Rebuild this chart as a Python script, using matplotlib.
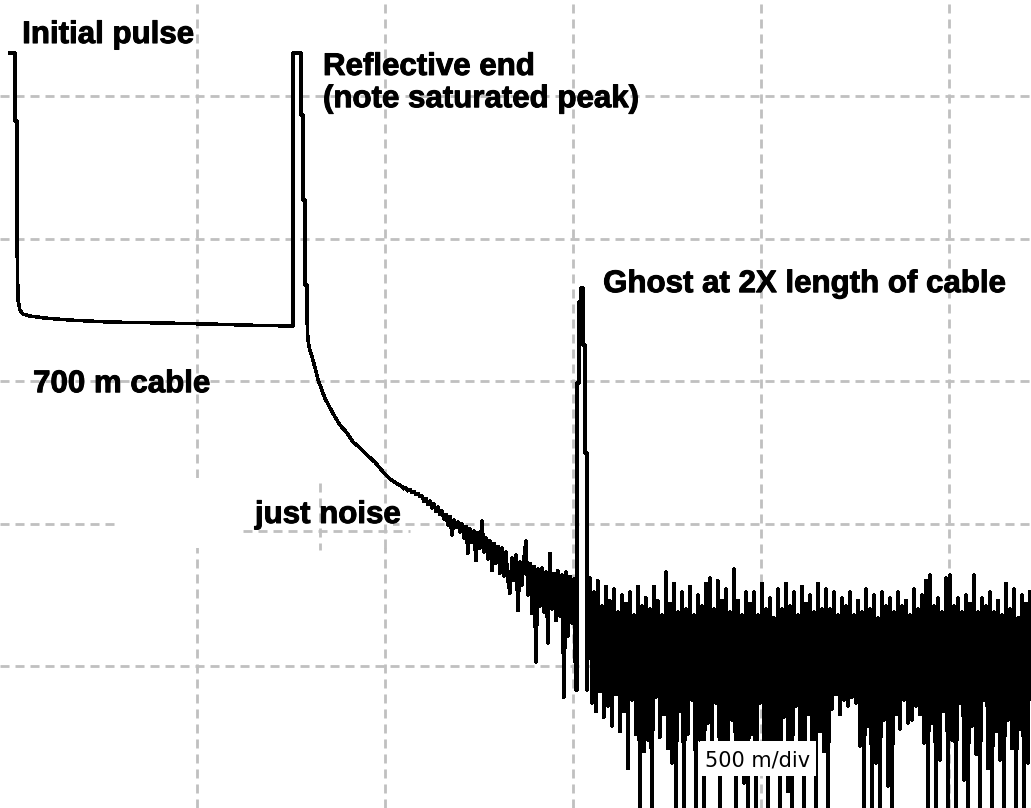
#!/usr/bin/env python3
"""Redraw an OTDR trace of a 700 m cable: launch pulse, end reflection and ghost.

Distance is in metres (500 m/div), level in dB (5 dB/div).
Output: out.png
"""

import matplotlib

matplotlib.use("Agg")

import matplotlib.patheffects as pe
import matplotlib.pyplot as plt
import numpy as np
from matplotlib.patches import Rectangle

# Launch pulse, cable backscatter, saturated end reflection and the smooth decay.
PULSE_M = [3, 16, 16, 21, 21, 24, 29, 37, 56, 96,
           162, 269, 402, 535, 641, 750, 755, 755, 777, 777,
           782, 782, 787, 787, 793, 793, 795, 800, 806, 814,
           822, 832, 840, 854, 867, 880, 899, 915, 934, 952,
           973, 995, 1013, 1029]
PULSE_DB = [21.51, 21.51, 19.12, 19.12, 14.95, 12.84, 12.49, 12.35, 12.28, 12.21,
            12.14, 12.07, 12.04, 12.00, 11.96, 11.93, 11.93, 21.51, 21.51, 19.33,
            19.33, 16.35, 16.35, 13.37, 13.37, 12.04, 11.44, 11.09, 10.84, 10.46,
            10.04, 9.68, 9.40, 9.05, 8.74, 8.46, 8.18, 7.86, 7.65, 7.40,
            7.16, 6.81, 6.56, 6.42]

SAMPLE_STEP_M = 5.32

# Decay sinking into the noise, sampled every SAMPLE_STEP_M from DECAY_START_M.
DECAY_START_M = 1045
DECAY_DB = [6.30, 6.22, 6.25, 6.15, 6.20, 6.08, 6.12, 6.02, 6.06, 5.95,
            5.97, 5.78, 5.88, 5.66, 5.80, 5.55, 5.70, 5.42, 5.58, 5.32,
            5.45, 5.15, 5.32, 4.95, 5.25, 4.60, 5.12, 4.85, 5.05, 4.70,
            5.00, 4.50, 4.90, 3.95, 4.82, 4.35, 4.75, 3.70, 4.68, 4.15,
            5.10, 4.00, 4.50, 3.75, 4.40, 3.35, 4.30, 3.60, 4.20, 3.25,
            4.15, 3.15, 4.00, 3.00, 2.55, 3.80, 3.00, 3.90, 1.95, 3.65,
            2.85, 3.80, 4.40, 2.50, 3.60, 1.85, 3.50, 0.15, 3.40, 2.10,
            3.45, 1.90, 3.30, 0.80, 3.95, 2.00, 3.25, 1.60, 3.35, 1.75,
            3.20, -1.10, 3.30, 1.05, 3.15, 1.50, 3.05]

# Ghost reflection at twice the cable length.
GHOST_M = [1507, 1511, 1511, 1516, 1516, 1521, 1521, 1527, 1527, 1532, 1532, 1537, 1537]
GHOST_DB = [-0.84, -0.84, 9.93, 9.93, 12.77, 12.77, 13.26, 13.26, 11.26, 11.26,
            7.47, 7.47, -0.84]

# Noise floor after the ghost, sampled every SAMPLE_STEP_M from FLOOR_START_M.
FLOOR_START_M = 1545
FLOOR_DB = [3.1, -1.3, 2.6, -1.6, 3.0, -0.9, 2.1, -1.8, 2.8, -1.4,
            2.3, -2.1, 2.7, -1.0, 1.9, -2.3, 2.5, -1.6, 2.2, -3.6,
            2.6, -1.2, 1.8, -2.4, 2.8, -5.6, 2.1, -3.0, 2.4, -2.6,
            2.0, -5.6, 2.8, -1.1, 2.3, -2.5, 1.8, -1.7, 3.3, -2.9,
            2.2, -3.4, 2.9, -5.6, 1.9, -1.6, 2.6, -5.6, 2.0, -2.4,
            2.8, -1.2, 1.8, -5.6, 2.5, -2.6, 2.1, -5.6, 2.9, -2.0,
            3.1, -2.8, 2.0, -1.3, 3.0, -5.6, 2.3, -3.3, 2.7, -2.9,
            1.9, -1.9, 3.4, -5.6, 2.3, -2.7, 1.8, -4.1, 2.6, -5.6,
            2.2, -2.4, 2.6, -5.6, 1.8, -1.3, 2.9, -3.0, 2.0, -5.6,
            2.4, -3.8, 1.7, -2.8, 2.7, -5.6, 2.0, -1.8, 2.9, -4.4,
            2.1, -5.6, 2.6, -1.4, 1.8, -3.2, 2.8, -5.6, 2.2, -1.7,
            2.5, -3.5, 1.9, -5.6, 2.9, -2.3, 2.0, -3.0, 2.7, -5.6,
            2.0, -1.5, 2.6, -1.0, 1.8, -1.7, 2.4, -1.2, 2.1, -1.4,
            2.6, -1.1, 1.8, -1.3, 2.3, -2.8, 1.9, -5.6, 2.7, -2.1,
            2.0, -5.6, 2.5, -3.4, 1.7, -5.6, 2.6, -1.9, 2.1, -4.2,
            2.4, -5.6, 1.9, -1.7, 2.6, -2.2, 2.1, -1.2, 2.3, -2.0,
            1.8, -1.9, 2.7, -1.4, 2.0, -1.7, 2.5, -2.7, 3.0, -5.6,
            3.2, -2.0, 2.1, -5.6, 2.4, -3.3, 1.9, -1.6, 3.1, -5.6,
            3.2, -2.6, 2.1, -5.6, 2.4, -1.3, 1.9, -4.0, 2.5, -5.6,
            2.2, -2.1, 3.2, -3.1, 1.9, -5.6, 2.4, -1.2, 2.1, -3.6,
            2.6, -5.6, 1.9, -2.3, 2.3, -3.3, 1.8, -5.6, 2.9, -1.9,
            2.0, -2.9, 2.7, -5.6, 1.7, -2.2, 2.5, -5.6, 2.2, -3.4,
            2.6]

DIST_TICKS_M = [500, 1000, 1500, 2000, 2500]
LEVEL_TICKS_DB = [0, 5, 10, 15, 20]

GRID_COLOR = "#c0c0c0"
GRID_DASH = (0, (6.5, 4.3))
LABEL_FONT = "Liberation Sans"
LABEL_SIZE = 22.5


def build_trace() -> tuple[np.ndarray, np.ndarray]:
    decay_m = DECAY_START_M + SAMPLE_STEP_M * np.arange(len(DECAY_DB))
    floor_m = FLOOR_START_M + SAMPLE_STEP_M * np.arange(len(FLOOR_DB))
    x = np.concatenate([PULSE_M, decay_m, GHOST_M, floor_m])
    y = np.concatenate([PULSE_DB, DECAY_DB, GHOST_DB, FLOOR_DB])
    return x, y


def main() -> None:
    plt.rcParams["lines.scale_dashes"] = False

    fig = plt.figure(figsize=(10.31, 8.08), dpi=100)
    ax = fig.add_axes([0, 0, 1, 1])
    ax.set_xlim(-24, 2718)
    ax.set_ylim(-4.98, 23.37)

    ax.set_xticks(DIST_TICKS_M)
    ax.set_yticks(LEVEL_TICKS_DB)
    ax.tick_params(length=0, labelbottom=False, labelleft=False)
    for spine in ax.spines.values():
        spine.set_visible(False)
    ax.set_axisbelow(True)
    ax.grid(True, color=GRID_COLOR, linestyle=GRID_DASH, linewidth=2.0)

    # The "just noise" label sits on a pasted patch with its own grid bits.
    ax.add_patch(Rectangle((295, 4.14), 726, 2.46, facecolor="white",
                           edgecolor="none", zorder=1))
    grid_bits = dict(color=GRID_COLOR, linestyle=GRID_DASH, linewidth=2.0, zorder=1.1)
    ax.plot([1000, 1000], [4.14, 6.60], **grid_bits)
    ax.plot([622, 1066], [4.74, 4.74], **grid_bits)
    ax.plot([827, 827], [6.42, 4.07], **grid_bits)

    x, y = build_trace()
    ax.plot(x, y, color="black", linewidth=1.8, antialiased=False, zorder=2)

    # Thin stroke makes the bold labels as heavy as the bitmap font.
    heavy = [pe.withStroke(linewidth=0.7, foreground="black")]
    bold = dict(fontfamily=LABEL_FONT, fontweight="bold", fontsize=LABEL_SIZE,
                ha="left", va="baseline", zorder=4, path_effects=heavy)
    ax.text(35, 21.86, "Initial pulse", **bold)
    ax.text(835, 20.74, "Reflective end", **bold)
    ax.text(835, 19.61, "(note saturated peak)", **bold)
    ax.text(1580, 13.12, "Ghost at 2X length of cable", **bold)
    ax.text(64, 9.61, "700 m cable", **bold)
    ax.text(654, 5.02, "just noise", **bold)

    ax.add_patch(Rectangle((1838, -3.86), 307, 1.23, facecolor="white",
                           edgecolor="none", zorder=3))
    ax.text(1851, -3.54, "500 m/div", fontfamily="DejaVu Sans", fontsize=15,
            ha="left", va="baseline", zorder=4)

    fig.savefig("out.png", dpi=100)
    plt.close(fig)


if __name__ == "__main__":
    main()
